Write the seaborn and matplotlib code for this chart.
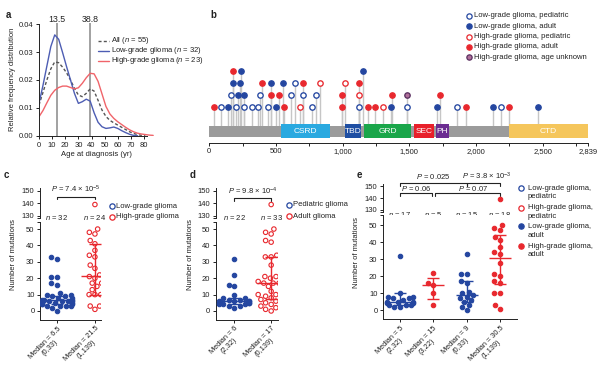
import numpy as np
import matplotlib
matplotlib.use("Agg")
import matplotlib.pyplot as plt
from matplotlib.lines import Line2D
from matplotlib.patches import Rectangle
from matplotlib.ticker import FormatStrFormatter, MultipleLocator
import seaborn as sns

W, H = 600, 369
nan = np.nan

# ---------------- a: age distribution ----------------
age = [0, 3, 6, 9, 12, 15, 18, 21, 24, 27, 30, 33, 36, 39, 42, 45, 48, 51, 54, 57,
       60, 63, 66, 69, 72, 75, 78, 81, 84, 87]
dens_all = [0.0110, 0.0155, 0.0200, 0.0240, 0.0265, 0.0262, 0.0246, 0.0226, 0.0200, 0.0170,
            0.0146, 0.0140, 0.0152, 0.0168, 0.0160, 0.0127, 0.0092, 0.0069, 0.0055, 0.0046,
            0.0038, 0.0030, 0.0022, 0.0014, 0.0008, 0.0004, 0.0001, 0.0, nan, nan]
dens_low = [0.0116, 0.0180, 0.0250, 0.0320, 0.0362, 0.0346, 0.0298, 0.0248, 0.0200, 0.0152,
            0.0116, 0.0122, 0.0131, 0.0124, 0.0082, 0.0048, 0.0032, 0.0026, 0.0028, 0.0031,
            0.0026, 0.0018, 0.0011, 0.0005, 0.0001, 0.0, nan, nan, nan, nan]
dens_high = [0.0068, 0.0090, 0.0118, 0.0145, 0.0163, 0.0173, 0.0178, 0.0178, 0.0173, 0.0168,
             0.0172, 0.0188, 0.0208, 0.0224, 0.0222, 0.0195, 0.0150, 0.0105, 0.0078, 0.0062,
             0.0050, 0.0040, 0.0030, 0.0021, 0.0014, 0.0009, 0.0006, 0.0004, 0.0002, 0.0001]
age_marks = [13.5, 38.8]
a_labels = ["All ($n$ = 55)", "Low-grade glioma ($n$ = 32)", "High-grade glioma ($n$ = 23)"]

# ---------------- b: NF1 protein lollipop ----------------
mut_pos = [38, 88, 138, 200, 263, 318, 368, 438, 498, 563, 680, 768, 993, 1123, 1188, 1243,
           1305, 1363, 1481, 1710, 1858, 1926, 2131, 2188, 2251, 2468,
           163, 213, 263, 380, 463, 523, 613, 700, 798, 993, 1123, 1373, 1481, 1731,
           175, 230, 398, 463, 550, 643, 700, 830, 1018, 1123,
           175, 238, 1151]
mut_row = [1] * 26 + [2] * 14 + [3] * 10 + [4] * 3
mut_type = ["HA", "LP", "LA", "LP", "LP", "LP", "LP", "LP", "LA", "HA", "HP", "LP", "HA", "LP",
            "HA", "HA", "HP", "LA", "LP", "LA", "LP", "HA", "LA", "LP", "HA", "LA",
            "LP", "LA", "LA", "LP", "HA", "HA", "LP", "LP", "LP", "HA", "HP", "HA", "HU", "HA",
            "LA", "LA", "HA", "LA", "LA", "LP", "HA", "HP", "HP", "HA",
            "HA", "LA", "LA"]
type_names = {"LP": "Low-grade glioma, pediatric", "LA": "Low-grade glioma, adult",
              "HP": "High-grade glioma, pediatric", "HA": "High-grade glioma, adult",
              "HU": "High-grade glioma, age unknown"}
dom_names = ["CSRD", "TBD", "GRD", "SEC", "PH", "CTD"]
dom_start = [540, 1018, 1160, 1536, 1698, 2250]
dom_end = [905, 1136, 1513, 1688, 1800, 2839]
protein_len = 2839
b_ticks = [0, 500, 1000, 1500, 2000, 2500, 2839]

# ---------------- c ----------------
c_groups = ["Low-grade glioma", "High-grade glioma"]
c_low = [0, 2, 3, 3, 3, 3, 4, 4, 4, 5, 5, 5, 6, 6, 6, 6, 7, 7, 7, 8, 8, 9, 9, 10, 10, 11,
         16, 17, 21, 21, 32, 33]
c_high = [1, 3, 3, 10, 10, 10, 13, 15, 17, 17, 20, 21, 22, 26, 28, 33, 34, 37, 41, 43, 47, 48,
          50, 139]
c_med, c_q1, c_q3 = [6.5, 21.5], [4, 10], [9, 41]
c_ticklabels = ["Median = 6.5\n(0,33)", "Median = 21.5\n(1,139)"]
c_pval = "$P$ = 7.4 × $10^{-5}$"

# ---------------- d ----------------
d_groups = ["Pediatric glioma", "Adult glioma"]
d_ped = [2, 3, 3, 4, 4, 4, 5, 5, 5, 6, 6, 6, 6, 7, 7, 8, 8, 10, 15, 16, 22, 32]
d_adult = [0, 1, 2, 3, 4, 5, 6, 7, 8, 9, 10, 10, 10, 11, 12, 15, 17, 17, 17, 18, 20, 21, 21,
           28, 33, 33, 34, 42, 43, 47, 48, 50, 139]
d_med, d_q1, d_q3 = [6, 17], [4, 7.6], [8, 33]
d_ticklabels = ["Median = 6\n(2,32)", "Median = 17\n(0,139)"]
d_pval = "$P$ = 9.8 × $10^{-4}$"

# ---------------- e ----------------
e_groups = ["Low-grade glioma,\npediatric", "High-grade glioma,\npediatric",
            "Low-grade glioma,\nadult", "High-grade glioma,\nadult"]
e_lgg_ped = [2, 2, 3, 3, 3, 4, 4, 5, 5, 5, 6, 7, 7, 8, 8, 10, 32]
e_hgg_ped = [3, 10, 15, 16, 22]
e_lgg_adult = [0, 2, 3, 5, 6, 7, 8, 9, 10, 11, 16, 17, 21, 21, 33]
e_hgg_adult = [1, 3, 10, 10, 16, 17, 20, 21, 28, 33, 34, 37, 41, 43, 47, 48, 50, 139]
e_med, e_q1, e_q3 = [5, 15, 9, 30.5], [3, 6.5, 5, 15.5], [10, 19, 17, 44]
e_ticklabels = ["Median = 5\n(2,32)", "Median = 15\n(3,22)", "Median = 9\n(0,33)",
                "Median = 30.5\n(1,139)"]
e_pvals = ["$P$ = 0.025", "$P$ = 3.8 × $10^{-3}$", "$P$ = 0.06", "$P$ = 0.07"]

# ---------------- style ----------------
BLUE, RED = "#2446a0", "#e8282e"
A_BLUE, A_RED, A_GRAY = "#4d5db3", "#f0646a", "#555555"
TXT = "#222222"
FS = 5.5
type_style = {"LP": (BLUE, "white"), "LA": (BLUE, BLUE), "HP": (RED, "white"),
              "HA": (RED, RED), "HU": ("#5a3060", "#b0709a")}
dom_colors = ["#2aa9e0", "#1f4fa3", "#1aa64a", "#e8202a", "#6b2c91", "#f5c65c"]

sns.set_style("ticks")
plt.rcParams["font.family"] = ["Liberation Sans", "DejaVu Sans"]
plt.rcParams.update({
    "mathtext.fontset": "custom", "mathtext.rm": "Liberation Sans",
    "mathtext.it": "Liberation Sans:italic",
    "font.size": FS, "axes.linewidth": 0.7, "axes.edgecolor": TXT,
    "xtick.major.width": 0.7, "ytick.major.width": 0.7,
    "xtick.minor.width": 0.7, "xtick.minor.size": 2.5,
    "xtick.major.size": 2.5, "ytick.major.size": 2.5,
    "xtick.major.pad": 1.5, "ytick.major.pad": 1.5,
    "xtick.labelsize": FS, "ytick.labelsize": FS, "axes.labelsize": FS,
    "xtick.color": TXT, "ytick.color": TXT, "text.color": TXT, "axes.labelcolor": TXT,
})

fig = plt.figure(figsize=(6, 3.69), dpi=100)


def rect(l, t, r, b):
    return [l / W, 1 - b / H, (r - l) / W, (b - t) / H]


def fx(x):
    return x / W


def fy(y):
    return 1 - y / H


def key_marker(x, y, edge, face, ms=3.8):
    fig.add_artist(Line2D([fx(x)], [fy(y)], marker="o", ls="", ms=ms, mec=edge, mfc=face,
                          mew=0.9, transform=fig.transFigure))


def key_text(x, y, text, step=9.0):
    for j, line in enumerate(text.split("\n")):
        fig.text(fx(x), fy(y + j * step), line, ha="left", va="center", fontsize=FS)


# panel letters
for letter, (x, y) in zip("abcde", [(6, 15), (210, 15), (4, 175), (190, 175), (357, 175)]):
    fig.text(fx(x), fy(y), letter, fontsize=7, fontweight="bold", ha="left", va="center")

# ======================= a =======================
ax_a = fig.add_axes(rect(39, 22.9, 154.5, 136.5))
sns.lineplot(x=age, y=dens_all, ax=ax_a, color=A_GRAY, lw=1.0, linestyle=(0, (2.2, 1.6)))
sns.lineplot(x=age, y=dens_low, ax=ax_a, color=A_BLUE, lw=1.0)
sns.lineplot(x=age, y=dens_high, ax=ax_a, color=A_RED, lw=1.0)
for m in age_marks:
    ax_a.axvline(m, color="#9a9a9a", lw=1.3, zorder=0)
    ax_a.text(m, 1.03, f"{m}", transform=ax_a.get_xaxis_transform(), ha="center",
              va="center", fontsize=6.3)
ax_a.set_xlim(0, 88)
ax_a.set_ylim(-0.0003, 0.0405)
ax_a.set_xticks(range(0, 81, 10))
ax_a.set_yticks([0, 0.01, 0.02, 0.03, 0.04])
ax_a.yaxis.set_major_formatter(FormatStrFormatter("%.2f"))
ax_a.spines[["top", "right"]].set_visible(False)
ax_a.spines["bottom"].set_bounds(0, 82)
ax_a.spines["left"].set_bounds(0, 0.04)
ax_a.set_xlabel("Age at diagnosis (yr)", labelpad=1.5)
ax_a.set_ylabel("Relative frequency distribution", labelpad=2)
for k, (col, ls) in enumerate([(A_GRAY, (0, (2.2, 1.6))), (A_BLUE, "-"), (A_RED, "-")]):
    yy = [40.8, 50.9, 61.0][k]
    fig.add_artist(Line2D([fx(97.5), fx(108.5)], [fy(yy), fy(yy)], color=col, lw=1.0, ls=ls,
                          transform=fig.transFigure))
    key_text(111, yy, a_labels[k])

# ======================= b =======================
ax_b = fig.add_axes(rect(209.3, 60, 587.8, 142.7))
ROW0, ROW_STEP, BAR_TOP = 35.7, 12.1, 17.0
row_y = [ROW0 + (r - 1) * ROW_STEP for r in mut_row]
ax_b.add_patch(Rectangle((0, 5.4), protein_len, BAR_TOP - 5.4, color="#9b9b9b", lw=0, zorder=1))
for name, s, e, col in zip(dom_names, dom_start, dom_end, dom_colors):
    ax_b.add_patch(Rectangle((s, 4.3), e - s, 14.6, color=col, lw=0, zorder=2))
    ax_b.text((s + e) / 2, 11.3, name, color="white", ha="center", va="center", fontsize=6,
              zorder=3)
ax_b.vlines(mut_pos, BAR_TOP, row_y, color="#c6c6c6", lw=1.0, zorder=0)
for t, (edge, face) in type_style.items():
    idx = [i for i, mt in enumerate(mut_type) if mt == t]
    sns.scatterplot(x=[mut_pos[i] for i in idx], y=[row_y[i] for i in idx], ax=ax_b, s=15,
                    color=edge, facecolor=face, edgecolor=edge, linewidth=0.95, zorder=4,
                    legend=False)
ax_b.set_xlim(0, protein_len)
ax_b.set_ylim(0, 82.7)
ax_b.set_xticks(b_ticks)
ax_b.set_xticklabels([f"{t:,}" for t in b_ticks])
ax_b.xaxis.set_minor_locator(MultipleLocator(250))
ax_b.set_yticks([])
ax_b.set_xlabel("")
ax_b.set_ylabel("")
ax_b.spines[["top", "right", "left"]].set_visible(False)
for k, t in enumerate(["LP", "LA", "HP", "HA", "HU"]):
    yy = 15.7 + k * 10.4
    key_marker(469, yy, *type_style[t])
    key_text(474, yy, type_names[t])


# ======================= c, d, e =======================
def mutation_panel(left, right, up_tb, lo_tb, xlim, ylim_up, ylim_lo, groups, values, colors,
                   filled, med, q1, q3, ticklabels, half_med, cap):
    ax_up = fig.add_axes(rect(left, up_tb[0], right, up_tb[1]))
    ax_lo = fig.add_axes(rect(left, lo_tb[0], right, lo_tb[1]))
    for i, (grp, vals, col, fill) in enumerate(zip(groups, values, colors, filled)):
        low = [v for v in vals if v < 100]
        high = [v for v in vals if v >= 100]
        sns.swarmplot(x=[grp] * len(low), y=low, order=groups, color=col, edgecolor=col,
                      size=3.2, linewidth=0.8, ax=ax_lo, zorder=3, warn_thresh=1)
        if not fill:
            ax_lo.collections[-1].set_facecolor("none")
        if high:
            sns.stripplot(x=[grp] * len(high), y=high, order=groups, jitter=False, color=col,
                          edgecolor=col, size=3.2, linewidth=0.8, ax=ax_up, zorder=3)
            if not fill:
                ax_up.collections[-1].set_facecolor("none")
        ax_lo.hlines(med[i], i - half_med, i + half_med, color=col, lw=1.0, zorder=4)
        ax_lo.errorbar(i, med[i], yerr=[[med[i] - q1[i]], [q3[i] - med[i]]], fmt="none",
                       ecolor=col, elinewidth=1.0, capsize=cap, capthick=1.0, zorder=4)
    for ax in (ax_up, ax_lo):
        ax.set_xlim(*xlim)
        ax.set_xlabel("")
        ax.set_ylabel("")
        ax.spines[["top", "right"]].set_visible(False)
    ax_up.set_ylim(*ylim_up)
    ax_up.set_yticks([130, 140, 150])
    ax_up.spines["bottom"].set_visible(False)
    ax_up.tick_params(bottom=False, labelbottom=False)
    ax_lo.set_ylim(*ylim_lo)
    ax_lo.set_yticks(range(0, 51, 10))
    ax_lo.set_xticks(range(len(groups)))
    ax_lo.set_xticklabels(ticklabels, rotation=45, ha="right", va="top",
                          rotation_mode="anchor", fontsize=5.3, linespacing=1.05,
                          multialignment="center")
    # axis-break marks
    ax_up.plot([0], [0], marker=0, ms=2.5, mew=0.7, color=TXT, transform=ax_up.transAxes,
               clip_on=False)
    ax_lo.plot([0], [1], marker=0, ms=2.5, mew=0.7, color=TXT, transform=ax_lo.transAxes,
               clip_on=False)
    return ax_up, ax_lo


def bracket(ax, x1, x2, y, drop, text=None, ty=None, tx=None):
    ax.plot([x1, x1, x2, x2], [y - drop, y, y, y - drop], color=TXT, lw=0.8, clip_on=False)
    if text:
        ax.text((x1 + x2) / 2 if tx is None else tx, ty, text, ha="center", va="center",
                fontsize=FS, clip_on=False)


def n_labels(ax, values, y):
    for i, vals in enumerate(values):
        ax.text(i, y, f"$n$ = {len(vals)}", ha="center", va="center", fontsize=FS,
                clip_on=False)


# c
c_vals = [c_low, c_high]
c_up, c_lo = mutation_panel(40, 101, (188, 218), (222, 319.5), (-0.447, 1.16), (128.4, 152.0),
                            (-5.2, 54.3), c_groups, c_vals, [BLUE, RED], [False, False],
                            c_med, c_q1, c_q3, c_ticklabels, 0.37, 4.6)
bracket(c_up, 0, 1, 145.2, 1.8, c_pval, 151.2)
n_labels(c_up, c_vals, 128.6)
fig.text(fx(14), fy(255), "Number of mutations", rotation=90, ha="center", va="center",
         fontsize=FS)
for k, col in enumerate([BLUE, RED]):
    key_marker(112.3, 206 + k * 11, col, "white")
    key_text(116.5, 206 + k * 11, c_groups[k])

# d
d_vals = [d_ped, d_adult]
d_up, d_lo = mutation_panel(215.7, 278.2, (188, 218), (222, 319.5), (-0.5, 1.19),
                            (128.4, 152.0), (-5.2, 54.3), d_groups, d_vals, [BLUE, RED],
                            [False, False], d_med, d_q1, d_q3, d_ticklabels, 0.37, 4.6)
bracket(d_up, 0, 1, 143.9, 1.8, d_pval, 149.6)
n_labels(d_up, d_vals, 128.6)
fig.text(fx(190.7), fy(255), "Number of mutations", rotation=90, ha="center", va="center",
         fontsize=FS)
for k, col in enumerate([BLUE, RED]):
    key_marker(289, 205 + k * 11, col, "white")
    key_text(293.2, 205 + k * 11, d_groups[k])

# e
e_vals = [e_lgg_ped, e_hgg_ped, e_lgg_adult, e_hgg_adult]
e_colors = [BLUE, RED, BLUE, RED]
e_filled = [False, False, True, True]
e_up, e_lo = mutation_panel(383, 516.9, (184, 212), (215, 319.3), (-0.51, 3.51),
                            (128.3, 151.7), (-5.3, 55.9), e_groups, e_vals, e_colors, e_filled,
                            e_med, e_q1, e_q3, e_ticklabels, 0.33, 4.0)
bracket(e_up, 0, 2, 152.3, 2.2, e_pvals[0], 157.8)
bracket(e_up, 2, 3, 152.3, 2.2, e_pvals[1], 157.8, tx=2.6)
bracket(e_up, 0, 0.97, 143.9, 2.2, e_pvals[2], 148.1)
bracket(e_up, 1.06, 3, 143.9, 2.2, e_pvals[3], 148.1, tx=2.2)
n_labels(e_up, e_vals, 125.8)
fig.text(fx(356.7), fy(252), "Number of mutations", rotation=90, ha="center", va="center",
         fontsize=FS)
for k, (col, fill) in enumerate(zip(e_colors, e_filled)):
    yy = [188, 208, 226.5, 246][k]
    key_marker(520.7, yy, col, col if fill else "white")
    key_text(527.5, yy, e_groups[k])

fig.savefig("out.png", dpi=100)
